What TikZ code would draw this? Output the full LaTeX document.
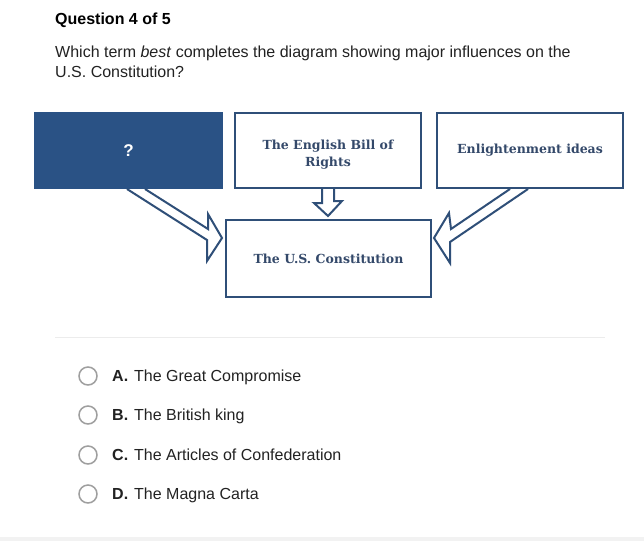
\documentclass[tikz,border=0pt]{standalone}
\usepackage{fontspec}
\setmainfont{Liberation Sans}
\newfontfamily\slabfont{DejaVu Serif}
\usetikzlibrary{calc}
\definecolor{navy}{RGB}{42,82,133}
\definecolor{edgeblue}{RGB}{47,79,120}
\definecolor{inkblue}{RGB}{52,73,106}
\definecolor{txt}{RGB}{34,34,34}
\tikzset{
  box/.style={draw=edgeblue, line width=2pt, align=center, text=inkblue,
    font=\slabfont\bfseries\fontsize{12.5}{17}\selectfont},
  hollow/.style={draw=edgeblue, line width=2pt, line join=miter},
  txtline/.style={anchor=base west, text=txt, inner sep=0pt, font=\fontsize{16}{19}\selectfont},
  radio/.style={draw=gray!75, line width=1.5pt, circle, minimum size=18pt, inner sep=0pt}
}
\begin{document}
\begin{tikzpicture}[x=1pt, y=-1pt]
\useasboundingbox[fill=white] (0,0) rectangle (644,541);
\node[txtline, text=black, font=\bfseries\fontsize{16}{19}\selectfont] (title) at (55,24) {Question 4 of 5};
\node[txtline] (ask1) at (55,57) {Which term \textit{best} completes the diagram showing major influences on the};
\node[txtline] (ask2) at (55,77) {U.S. Constitution?};

\node[box, fill=navy, draw=navy, text=white, font=\bfseries\fontsize{17}{19}\selectfont,
  minimum width=187pt, minimum height=75pt] (q) at (128.5,150.5) {?};
\node[box, minimum width=186pt, minimum height=75pt] (bill) at (328,150.5)
  {\raisebox{-7pt}[0pt][0pt]{\begin{tabular}{@{}c@{}}The English Bill of\\Rights\end{tabular}}};
\node[box, minimum width=186pt, minimum height=75pt] (enl) at (530,150.5) {Enlightenment ideas};
\node[box, minimum width=205pt, minimum height=77pt] (con) at (328.5,258.5) {The U.S. Constitution};

\draw[hollow] ($(q.south)+(16.5,0)$) -- ++(63,40) -- ++(0,-15) -- ($(con.west)+(-3,-20.5)$)
  -- ++(-15,23) -- ++(0,-21) -- ($(q.south)+(-1.5,0)$);
\draw[hollow] ($(bill.south)+(-6,0)$) -- ++(0,14) -- ++(-8,0) -- ($(con.north)+(-0.5,-3)$)
  -- ++(14,-15) -- ++(-8,0) -- ($(bill.south)+(6,0)$);
\draw[hollow] ($(enl.south)+(-2,0)$) -- ++(-78,53) -- ++(0,21) -- ($(con.east)+(2,-20.5)$)
  -- ++(15,-25) -- ++(2,16) -- ($(enl.south)+(-20,0)$);

\draw[gray!15, line width=1pt] (55,337) -- (605,337);
\foreach \y/\l/\t [count=\i] in {376/A/The Great Compromise, 415/B/The British king,
  455/C/The Articles of Confederation, 494/D/The Magna Carta}{
  \node[radio] (r\i) at (88,\y) {};
  \node[txtline] (o\i) at (112,{\y+5.5}) {\makebox[22pt][l]{\textbf{\l.}}\t};
}
\fill[gray!10] (0,537) rectangle (644,541);
\end{tikzpicture}
\end{document}
